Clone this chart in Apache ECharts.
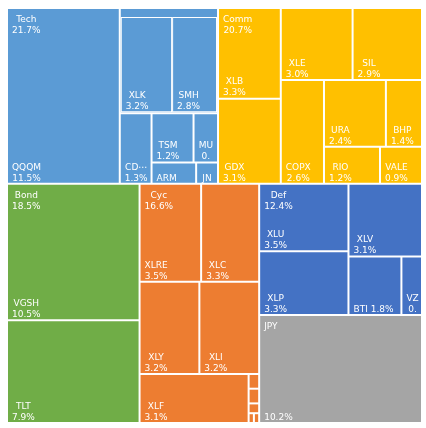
<!DOCTYPE html>
<html>
<head>
<meta charset="utf-8">
<script src="https://cdn.jsdelivr.net/npm/echarts@6/dist/echarts.min.js"></script>
<style>
html,body{margin:0;padding:0;background:#fff;}
#chart{width:426px;height:428px;}
</style>
</head>
<body>
<div id="chart"></div>
<script>
// ---------------- data ----------------
const groupNames = ['Tech', 'Comm', 'Bond', 'Cyc', 'Def', 'JPY'];
const groupPct = [21.7, 20.7, 18.5, 16.6, 12.4, null];

const techNames = ['QQQM', 'XLK', 'SMH', 'CDNS', 'TSM', 'MU', 'ARM', 'JNPR'];
const techValues = [11.5, 3.2, 2.8, 1.3, 1.2, 0.7, 0.55, 0.27];

const commNames = ['XLB', 'GDX', 'XLE', 'SIL', 'COPX', 'URA', 'BHP', 'RIO', 'VALE'];
const commValues = [3.3, 3.1, 3.0, 2.9, 2.6, 2.4, 1.4, 1.2, 0.9];

const bondNames = ['VGSH', 'TLT'];
const bondValues = [10.5, 7.9];

const cycNames = ['XLRE', 'XLC', 'XLY', 'XLI', 'XLF', 'DIA', 'DXJ', 'FXI', 'EWJ', 'EWZ'];
const cycValues = [3.5, 3.3, 3.2, 3.2, 3.1, 0.09, 0.09, 0.06, 0.03, 0.03];

const defNames = ['XLU', 'XLP', 'XLV', 'BTI', 'VZ'];
const defValues = [3.5, 3.3, 3.1, 1.8, 0.7];

const jpyNames = [''];
const jpyValues = [10.2];

// tile grouping (layout structure only, indices into the arrays above)
const techNest = [0, { band: 8, items: [1, 2] }, [3, [4, 5, 6, 7]]];
const commNest = [0, 1, 2, 3, [4, [5, 6, 7, 8]]];
const bondNest = [0, 1];
const cycNest = [0, 1, 2, 3, 4, 5, 6, 7, 8, 9];
const defNest = [0, 1, 2, 3, 4];
const jpyNest = [0];

// ---------------- style ----------------
const palette = ['#5B9BD5', '#FFC000', '#70AD47', '#ED7D31', '#4472C4', '#A5A5A5'];
const oneLineLabels = ['BTI'];
const FONT_SIZE = 9;
const FONT_FAMILY = '"DejaVu Sans", Verdana, sans-serif';
const LINE_H = 11;
const PAD = 2.5;     // truncation margin on each side
const INSET = 4;     // left inset of label block
const BOTTOM_SHIFT = 1;
const TOP_SHIFT = 5;
const ELL = '\u22EF';

const childNames = [techNames, commNames, bondNames, cycNames, defNames, jpyNames];
const childValues = [techValues, commValues, bondValues, cycValues, defValues, jpyValues];
const nests = [techNest, commNest, bondNest, cycNest, defNest, jpyNest];

function sum(a) { return a.reduce((s, v) => s + v, 0); }

const ctx = document.createElement('canvas').getContext('2d');
ctx.font = FONT_SIZE + 'px ' + FONT_FAMILY;
function textW(s) { return ctx.measureText(s).width; }
function truncW(s, avail) {
  const w = textW(s);
  if (w <= avail) return w;
  for (let k = s.length - 1; k >= 0; k--) {
    const t = s.slice(0, k) + ELL;
    const tw = textW(t);
    if (tw <= avail || k === 0) return Math.min(tw, Math.max(avail, 0));
  }
  return 0;
}

function leafLines(name, value) {
  const v = value.toFixed(1) + '%';
  return oneLineLabels.indexOf(name) >= 0 ? [name + ' ' + v] : [name, v];
}

function buildNodes(spec, names, values, widths, gi, framed) {
  return spec.map(s => {
    if (typeof s === 'number') {
      const name = names[s];
      const lines = leafLines(name, values[s]);
      const w = widths && widths[name] != null ? widths[name] : Math.max.apply(null, lines.map(textW));
      const leaf = {
        name: name,
        value: values[s],
        label: { align: 'center', offset: [INSET + w / 2, BOTTOM_SHIFT] }
      };
      if (framed) leaf.itemStyle = { borderWidth: 1, borderColor: '#fff' };
      return leaf;
    }
    const items = Array.isArray(s) ? s : s.items;
    const node = {
      name: '',
      children: buildNodes(items, names, values, widths, gi, !!s.band),
      itemStyle: s.band
        ? { borderColor: palette[gi], gapWidth: 0, borderWidth: 0 }
        : { borderColor: '#fff', gapWidth: 2, borderWidth: 0 }
    };
    if (s.band) node.upperLabel = { show: true, height: s.band, formatter: function () { return ''; } };
    return node;
  });
}

function buildOption(widths) {
  const treeData = groupNames.map((g, gi) => ({
    name: g,
    itemStyle: { color: palette[gi], borderColor: '#fff', gapWidth: 2, borderWidth: 0 },
    children: buildNodes(nests[gi], childNames[gi], childValues[gi], widths, gi, false)
  }));

  const groupData = groupNames.map((g, gi) => {
    const lines = groupPct[gi] == null ? [g] : [g, groupPct[gi].toFixed(1) + '%'];
    const w = Math.max.apply(null, lines.map(textW));
    return {
      name: g,
      value: sum(childValues[gi]),
      label: { align: 'center', offset: [INSET + w / 2, TOP_SHIFT] }
    };
  });

  const labelBase = {
    show: true,
    color: '#fff',
    fontSize: FONT_SIZE,
    fontFamily: FONT_FAMILY,
    lineHeight: LINE_H,
    distance: 0,
    padding: [0, PAD, 0, PAD],
    overflow: 'truncate',
    ellipsis: ELL,
    lineOverflow: 'truncate'
  };

  const common = {
    type: 'treemap',
    left: 8, top: 9, right: 5, bottom: 6,
    roam: false,
    nodeClick: false,
    sort: false,
    squareRatio: 1,
    visibleMin: 0,
    breadcrumb: { show: false },
    animation: false
  };

  return {
    animation: false,
    series: [
      Object.assign({}, common, {
        z: 2,
        data: treeData,
        itemStyle: { borderWidth: 0, gapWidth: 2, borderColor: '#fff' },
        label: Object.assign({}, labelBase, {
          position: 'insideBottomLeft',
          formatter: function (p) { return leafLines(p.name, p.value).join('\n'); }
        }),
        upperLabel: { show: false },
        levels: [
          { itemStyle: { borderWidth: 0, gapWidth: 2, borderColor: '#fff' } }
        ]
      }),
      Object.assign({}, common, {
        z: 5,
        silent: true,
        data: groupData,
        itemStyle: { color: 'rgba(0,0,0,0)', borderWidth: 0, gapWidth: 2, borderColor: 'rgba(0,0,0,0)' },
        label: Object.assign({}, labelBase, {
          position: 'insideTopLeft',
          formatter: function (p) {
            const gi = groupNames.indexOf(p.name);
            return groupPct[gi] == null ? p.name : p.name + '\n' + groupPct[gi].toFixed(1) + '%';
          }
        }),
        levels: [
          { itemStyle: { borderWidth: 0, gapWidth: 2, borderColor: 'rgba(0,0,0,0)', color: 'rgba(0,0,0,0)' } }
        ]
      })
    ]
  };
}

const chart = echarts.init(document.getElementById('chart'), null, { renderer: 'canvas' });
chart.setOption(buildOption(null), true);

// second pass: measure label blocks against the library's computed tiles
const widths = {};
try {
  const data = chart.getModel().getSeriesByIndex(0).getData();
  const valueOf = {};
  childNames.forEach((ns, gi) => ns.forEach((n, i) => { valueOf[n] = childValues[gi][i]; }));
  data.tree.root.eachNode(function (node) {
    if (node.children && node.children.length) return;
    const lay = node.getLayout();
    if (!lay || valueOf[node.name] == null) return;
    const lines = leafLines(node.name, valueOf[node.name]);
    const nShow = Math.max(1, Math.min(lines.length, Math.floor(lay.height / LINE_H)));
    const avail = lay.width - 2 * PAD;
    let w = 0;
    for (let i = 0; i < nShow; i++) w = Math.max(w, truncW(lines[i], avail));
    widths[node.name] = w;
  });
  chart.setOption(buildOption(widths), true);
} catch (e) {
  console.log('second pass skipped', e);
}
</script>
</body>
</html>
